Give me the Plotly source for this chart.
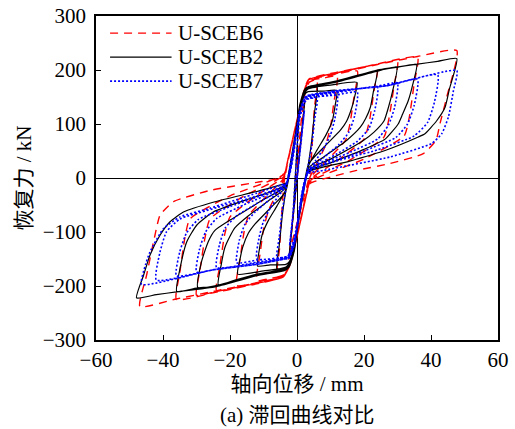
import plotly.graph_objects as go

# ---------------- data (axial displacement mm, restoring force kN) ----------------
x_ticks = [-60, -40, -20, 0, 20, 40, 60]
y_ticks = [-300, -200, -100, 0, 100, 200, 300]

series_names = ["U-SCEB6", "U-SCEB2", "U-SCEB7"]

# U-SCEB6 (red dashed)
sceb6_points = [
    (0, 0), (1.3, 80), (2.4, 150), (1.2, 70), (-1.3, -80), (-2.4, -150), (-1.2, -70),
    (1.5, 120), (2.8, 168), (3.8, 178), (6, 182), (5.2, 130), (4.5, 60), (3.9, 10),
    (-1.5, -120), (-2.8, -168), (-3.9, -179), (-6, -183), (-5.2, -130), (-4.5, -60), (-3.9, -10),
    (-2.9, 25), (2.1, 158), (3.5, 180), (8, 185), (12, 189), (11, 140), (10, 95), (8.5, 60), (6, 28), (3.9, 2),
    (2.9, -25), (-2.1, -158), (-4, -181), (-8, -186), (-12, -190), (-11, -140), (-10, -95), (-8.5, -60), (-6, -28), (-3.9, -2),
    (-2.9, 27), (2.1, 160), (3.5, 181), (10, 190), (18, 198), (17, 150), (15.8, 100), (14.5, 70), (9, 33), (3.9, 0),
    (2.9, -27), (-2.1, -160), (-4.1, -182), (-10, -191), (-18, -199), (-17, -150), (-15.8, -100), (-14.5, -70), (-9, -33), (-3.9, 0),
    (-2.9, 28), (2.1, 160), (3.5, 182), (12, 193), (24, 209), (23, 162), (21.6, 105), (20, 72), (12, 32), (3.9, -3),
    (2.9, -28), (-2.1, -160), (-4.1, -183), (-12, -194), (-24, -209), (-23, -162), (-21.6, -105), (-20, -72), (-12, -32), (-3.9, 3),
    (-2.9, 29), (2.1, 161), (3.5, 182), (12, 194), (24, 210), (30, 217), (29, 172), (27.5, 112), (26, 76), (16, 34), (3.9, -5),
    (2.9, -29), (-2.1, -161), (-4.1, -183), (-12, -195), (-24, -210), (-30, -217), (-29, -172), (-27.5, -112), (-26, -76), (-16, -34), (-3.9, 5),
    (-2.9, 29), (2.1, 161), (3.5, 182), (12, 195), (24, 211), (36, 224), (35, 176), (33.5, 112), (32, 78), (20, 35), (3.9, -7),
    (2.9, -29), (-2.1, -161), (-4.1, -183), (-12, -196), (-24, -211), (-36, -225), (-35, -176), (-33.5, -112), (-32, -76), (-20, -33), (-3.9, 7),
    (-2.9, 29), (2.1, 162), (3.5, 183), (12, 196), (26.9, 214), (36, 225), (47.7, 236), (44.7, 150), (42.7, 101), (41.5, 70),
    (37.7, 45), (27.8, 27), (17.8, 14), (10.8, 3), (3.9, -10),
    (2.9, -29), (-2.1, -158), (-4.1, -183), (-12, -194), (-25, -210), (-36, -224), (-46.9, -238), (-44.9, -180), (-42.4, -106),
    (-40.9, -69), (-36.9, -44), (-26, -23), (-12, -8), (-5.2, 0), (-4, 8),
]

# U-SCEB2 (black solid)
sceb2_points = [
    (0, 0), (1.2, 75), (2.3, 140), (1.3, 80), (-1.2, -75), (-2.3, -140), (-1.3, -80),
    (0.8, 120), (2.4, 158), (3.3, 165), (6, 168), (5.3, 125), (4.4, 70), (3.5, 30),
    (-0.8, -120), (-2.4, -158), (-3.3, -165), (-6, -168), (-5.3, -125), (-4.4, -70), (-3.5, -30),
    (0.8, 125), (2.3, 155), (3.3, 160), (8, 161), (11.9, 162), (11.4, 135), (10.5, 105), (8.5, 78), (6, 52), (3.4, 22),
    (-0.8, -125), (-2.3, -155), (-3.3, -160), (-8, -161), (-11.8, -163), (-11.3, -135), (-10.4, -105), (-8.5, -78), (-6, -52), (-3.4, -22),
    (0.8, 130), (2.4, 160), (3.3, 166), (10, 172), (17.9, 177), (17.2, 150), (16.4, 131), (14.8, 105), (12.9, 88), (8, 57), (3.4, 25),
    (-0.8, -130), (-2.4, -160), (-3.3, -166), (-10, -172), (-17.7, -178), (-17.0, -150), (-16.2, -128), (-14.5, -102), (-12.5, -85), (-8, -56), (-3.4, -25),
    (0.8, 132), (2.4, 162), (3.3, 167), (12, 178), (18, 188), (23.9, 199), (22.8, 160), (21.9, 131), (20.5, 110), (18.9, 94), (14.9, 70), (8, 39), (3.4, 18),
    (-0.8, -132), (-2.4, -162), (-3.5, -168), (-12, -178), (-18, -188), (-23.5, -198), (-22.6, -160), (-21.6, -130), (-20, -108), (-18.5, -92), (-14.5, -70), (-8, -40), (-3.4, -18),
    (0.8, 133), (2.4, 163), (3.3, 167), (12, 178), (24, 198), (29.8, 205), (28.5, 160), (27.3, 131), (26, 106), (23, 85), (19.9, 70), (10, 35), (3.3, 14),
    (-0.8, -133), (-2.4, -163), (-3.5, -169), (-12, -179), (-24, -199), (-29.6, -203), (-28.5, -155), (-26.5, -118), (-24.5, -97), (-20, -78), (-10, -40), (-3.3, -14),
    (0.8, 134), (2.4, 164), (3.3, 168), (12, 179), (24, 199), (30, 205), (35.7, 210), (34.5, 172), (33.2, 143), (31.5, 118), (30.2, 100), (26.3, 72), (20, 53), (10, 28), (3.3, 12),
    (-0.8, -134), (-2.4, -164), (-3.5, -170), (-12, -180), (-24, -200), (-30, -204), (-35.9, -210), (-34.9, -167), (-32.9, -118), (-29.9, -87), (-25, -63), (-15, -40), (-3.3, -12),
    (0.8, 135), (2.4, 165), (3.3, 169), (12, 180), (24, 200), (36, 211), (42, 216), (47.7, 221), (45.5, 165), (44.2, 131), (41.7, 106), (38.2, 82), (36.2, 76), (26.3, 51), (15, 30), (3.2, 10),
    (-0.8, -135), (-2.4, -165), (-3.6, -171), (-12, -181), (-24, -201), (-36, -211), (-42, -216), (-47.9, -222), (-45.8, -180), (-43.9, -143), (-40.9, -106), (-37.9, -81), (-33.9, -63), (-24.5, -44), (-12, -25), (-3.2, -10),
]

# U-SCEB7 (blue dotted)
sceb7_points = [
    (0, 0), (1.2, 70), (2.2, 125), (1.2, 65), (-1.2, -70), (-2.2, -125), (-1.2, -65),
    (0.8, 110), (2.3, 140), (3.2, 146), (6, 148), (5.3, 110), (4.4, 60), (3.4, 25),
    (-0.8, -110), (-2.3, -140), (-3.3, -146), (-6, -148), (-5.3, -110), (-4.4, -60), (-3.4, -25),
    (0.8, 115), (2.3, 142), (3.2, 147), (12, 152), (11.3, 110), (10, 80), (8, 55), (5.5, 32), (3.3, 14),
    (-0.8, -115), (-2.3, -142), (-3.4, -146), (-12, -150), (-11.3, -110), (-10, -80), (-8, -56), (-5.5, -33), (-3.3, -14),
    (0.8, 118), (2.3, 144), (3.2, 148), (12, 154), (18, 159), (17.2, 115), (15.5, 85), (12.5, 62), (8, 38), (3.3, 13),
    (-0.8, -118), (-2.3, -143), (-3.5, -147), (-12, -152), (-18, -157), (-17.2, -115), (-15.5, -85), (-12.5, -63), (-8, -39), (-3.3, -13),
    (0.8, 120), (2.4, 146), (3.2, 150), (12, 158), (24, 168), (23.2, 125), (21.5, 92), (18, 68), (12, 45), (3.3, 12),
    (-0.8, -120), (-2.4, -145), (-3.6, -148), (-12, -156), (-24, -166), (-23.2, -125), (-21.5, -93), (-18, -70), (-12, -47), (-3.3, -12),
    (0.8, 121), (2.4, 147), (3.2, 151), (12, 160), (24, 170), (30, 176), (29.1, 130), (27.3, 98), (24, 72), (16, 48), (3.3, 11),
    (-0.8, -121), (-2.4, -146), (-3.7, -149), (-12, -158), (-24, -169), (-30, -174), (-29.1, -132), (-27.3, -100), (-24, -75), (-16, -50), (-3.3, -11),
    (0.8, 122), (2.4, 148), (3.2, 152), (12, 161), (26.9, 171), (36, 183), (35, 135), (33, 100), (29.5, 75), (20, 50), (3.3, 10),
    (-0.8, -122), (-2.4, -147), (-3.7, -149), (-12, -159), (-25, -170), (-36, -181), (-35, -137), (-33, -102), (-29.5, -77), (-20, -53), (-3.3, -10),
    (0.8, 123), (2.4, 149), (3.2, 152), (12, 161), (26.9, 171), (42, 191), (41, 140), (39, 103), (35, 78), (24, 52), (3.3, 10),
    (-0.8, -123), (-2.4, -148), (-3.7, -150), (-12, -160), (-25, -170), (-42, -189), (-41, -140), (-39, -100), (-35, -76), (-24, -55), (-3.3, -10),
    (0.8, 124), (2.4, 150), (3.2, 153), (12, 162), (26.9, 171), (47.7, 199), (46.7, 162), (45.2, 113), (43.2, 82), (40.2, 64), (27.8, 39), (7.9, 14), (3.3, 8),
    (-0.8, -124), (-2.4, -149), (-3.7, -150), (-12, -160), (-25, -170), (-46.4, -197), (-45.2, -160), (-43.9, -137), (-39.9, -94), (-34.9, -72), (-26, -56), (-12, -28), (-3.3, -10),
]

LATIN = "Times New Roman"
MIXED = "Times New Roman, Noto Sans CJK SC"

line_styles = [
    dict(color="#ff0000", width=1.4, dash="8px,6px"),
    dict(color="#000000", width=1.2),
    dict(color="#0000ff", width=1.6, dash="2px,2px"),
]
series_points = [sceb6_points, sceb2_points, sceb7_points]

fig = go.Figure()
for name, pts, line in zip(series_names, series_points, line_styles):
    fig.add_trace(go.Scatter(
        x=[p[0] for p in pts], y=[p[1] for p in pts],
        mode="lines", name=name, showlegend=False,
        line=dict(line, shape="spline", smoothing=0.5),
    ))

# legend drawn in the upper-left corner of the plot area
for i, (name, line) in enumerate(zip(series_names, line_styles)):
    yy = 0.947 - i * 0.074
    fig.add_shape(type="line", xref="paper", yref="paper", x0=0.035, x1=0.188, y0=yy, y1=yy,
                  line=dict(color=line["color"], width=line["width"], dash=line.get("dash", "solid")))
    fig.add_annotation(text=name, xref="paper", yref="paper", x=0.198, y=yy,
                       xanchor="left", yanchor="middle", showarrow=False,
                       font=dict(family=LATIN, size=21, color="black"))

axis_common = dict(
    showline=True, linecolor="black", linewidth=1.5, mirror=True,
    ticks="inside", ticklen=5, tickwidth=1.2, tickcolor="black",
    showgrid=False, zeroline=True, zerolinecolor="black", zerolinewidth=1.3,
    tickfont=dict(family=LATIN, size=21, color="black"), automargin=False,
)

fig.update_xaxes(
    range=[-60, 60], tickvals=x_ticks, **axis_common,
    title=dict(text="轴向位移 / mm", font=dict(family=MIXED, size=21, color="black"), standoff=4),
)
fig.update_yaxes(
    range=[-300, 300], tickvals=y_ticks, ticklabelstandoff=4, **axis_common,
    title=dict(text="恢复力 / kN", font=dict(family=MIXED, size=21, color="black"), standoff=5),
)

fig.add_annotation(
    text="(a) 滞回曲线对比", xref="paper", yref="paper", x=0.5, y=-0.23,
    xanchor="center", yanchor="middle", showarrow=False,
    font=dict(family=MIXED, size=21, color="black"),
)

fig.update_layout(
    width=515, height=429,
    margin=dict(l=96, r=17, t=16, b=89),
    plot_bgcolor="white", paper_bgcolor="white",
)

fig.write_html(
    "out.html",
    config={"displayModeBar": False},
    post_script="document.body.style.margin='0';document.body.style.overflow='hidden';",
)
